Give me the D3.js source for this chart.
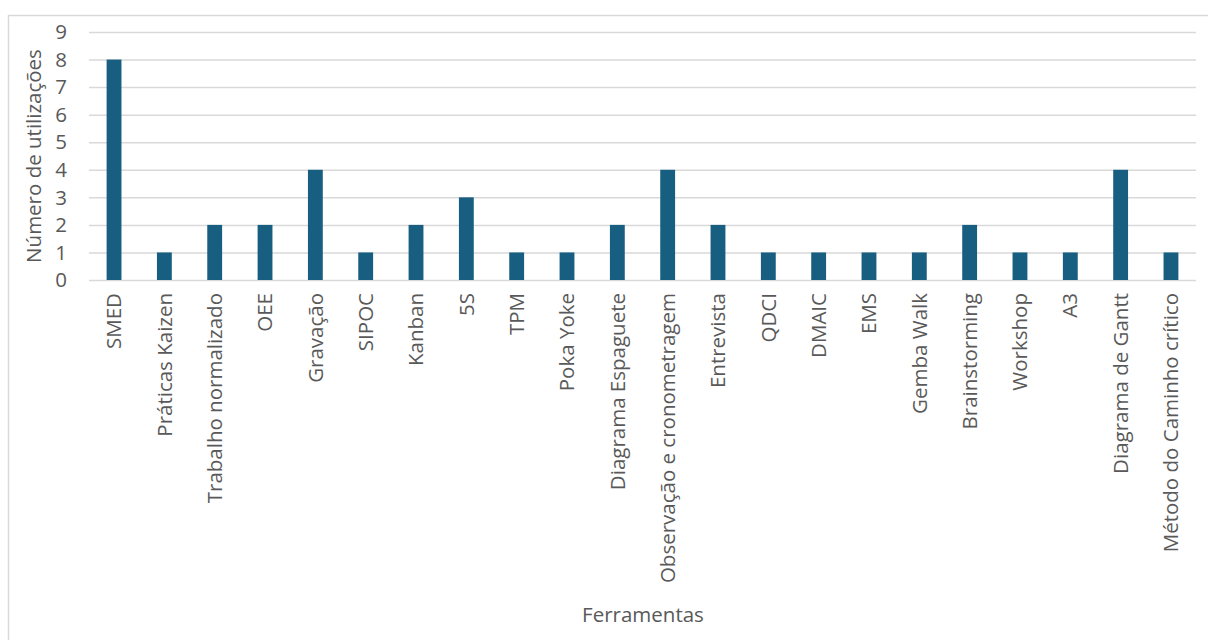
<!DOCTYPE html>
<html>
<head>
<meta charset="utf-8">
<script src="https://cdn.jsdelivr.net/npm/d3@7"></script>
<style>
  body { margin: 0; background: #fff; }
  text { font-family: "Open Sans", sans-serif; fill: #595959; }
</style>
</head>
<body>
<div id="chart"></div>
<script>
// data
var categories = ["SMED", "Práticas Kaizen", "Trabalho normalizado", "OEE", "Gravação", "SIPOC",
  "Kanban", "5S", "TPM", "Poka Yoke", "Diagrama Espaguete", "Observação e cronometragem",
  "Entrevista", "QDCI", "DMAIC", "EMS", "Gemba Walk", "Brainstorming", "Workshop", "A3",
  "Diagrama de Gantt", "Método do Caminho crítico"];
var values = [8, 1, 2, 2, 4, 1, 2, 3, 1, 1, 2, 4, 2, 1, 1, 1, 1, 2, 1, 1, 4, 1];
var yTicks = [0, 1, 2, 3, 4, 5, 6, 7, 8, 9];

var width = 1208;
var height = 640;
var margin = {top: 32, right: 12, bottom: 360, left: 89};
var fontSize = '20.5px';

var svg = d3.select('#chart').append('svg')
    .attr('width', width)
    .attr('height', height);

// chart area border (only top/left visible)
svg.append('rect')
    .attr('x', 8.5).attr('y', 15.5)
    .attr('width', 1220).attr('height', 640)
    .attr('fill', 'none')
    .attr('stroke', '#d9d9d9')
    .attr('stroke-width', 1.5);

var x = d3.scaleBand()
    .domain(categories)
    .range([margin.left, width - margin.right])
    .paddingInner(0.705)
    .paddingOuter(0.35);

var y = d3.scaleLinear()
    .domain([0, 9])
    .range([280, 32]);

// gridlines
svg.append('g')
    .selectAll('line')
    .data(yTicks)
    .enter()
    .append('line')
    .attr('x1', margin.left)
    .attr('x2', width - margin.right)
    .attr('y1', function(d) { return y(d) + 0.5; })
    .attr('y2', function(d) { return y(d) + 0.5; })
    .attr('stroke', '#d9d9d9')
    .attr('stroke-width', 1.5);

// y tick labels
svg.append('g')
    .selectAll('text')
    .data(yTicks)
    .enter()
    .append('text')
    .attr('x', 67)
    .attr('y', function(d) { return y(d); })
    .attr('dy', '0.35em')
    .attr('text-anchor', 'end')
    .style('font-size', fontSize)
    .text(function(d) { return d; });

// bars
svg.append('g')
    .selectAll('rect')
    .data(values)
    .enter()
    .append('rect')
    .attr('x', function(d, i) { return x(categories[i]); })
    .attr('y', function(d) { return y(d); })
    .attr('width', x.bandwidth())
    .attr('height', function(d) { return y(0) - y(d); })
    .attr('fill', '#175e80');

// category labels
svg.append('g')
    .selectAll('text')
    .data(categories)
    .enter()
    .append('text')
    .attr('transform', function(d) {
        return 'translate(' + (x(d) + x.bandwidth() / 2) + ',293) rotate(-90)';
    })
    .attr('dy', '0.35em')
    .attr('text-anchor', 'end')
    .style('font-size', fontSize)
    .text(function(d) { return d; });

// axis titles
svg.append('text')
    .attr('transform', 'translate(34,156) rotate(-90)')
    .attr('dy', '0.35em')
    .attr('text-anchor', 'middle')
    .style('font-size', fontSize)
    .text('Número de utilizações');

svg.append('text')
    .attr('x', 643)
    .attr('y', 615)
    .attr('dy', '0.35em')
    .attr('text-anchor', 'middle')
    .style('font-size', fontSize)
    .text('Ferramentas');
</script>
</body>
</html>
